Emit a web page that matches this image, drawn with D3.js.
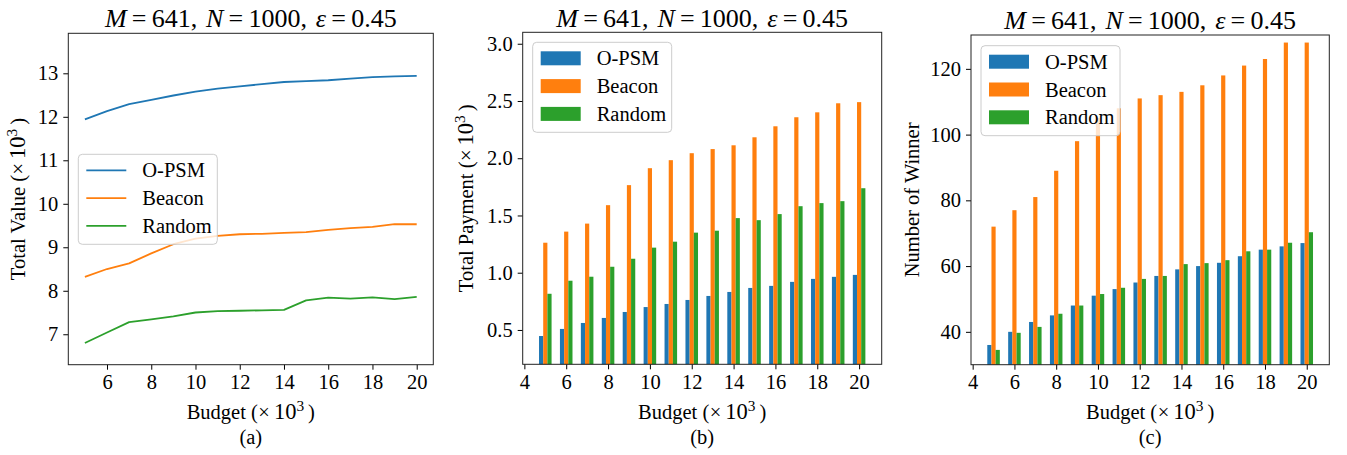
<!DOCTYPE html>
<html>
<head>
<meta charset="utf-8">
<script src="https://cdn.jsdelivr.net/npm/d3@7"></script>
<style>
  body { margin: 0; background: #fff; }
  svg text { font-family: "Liberation Serif", "Times New Roman", serif; fill: #000; }
</style>
</head>
<body>
<div id="wrapper"></div>
<script>
// data
const budget = [5, 6, 7, 8, 9, 10, 11, 12, 13, 14, 15, 16, 17, 18, 19, 20];
const series = ["O-PSM", "Beacon", "Random"];

// (a) total value (x10^3)
const valueOPSM   = [11.94, 12.13, 12.29, 12.39, 12.49, 12.58, 12.65, 12.70, 12.75, 12.80, 12.82, 12.84, 12.88, 12.91, 12.93, 12.94];
const valueBeacon = [8.32, 8.50, 8.63, 8.86, 9.07, 9.20, 9.26, 9.30, 9.31, 9.33, 9.35, 9.40, 9.44, 9.47, 9.53, 9.53];
const valueRandom = [6.80, 7.04, 7.28, 7.34, 7.41, 7.50, 7.53, 7.54, 7.55, 7.56, 7.78, 7.84, 7.82, 7.85, 7.81, 7.86];

// (b) total payment (x10^3)
const payOPSM   = [0.447, 0.509, 0.561, 0.605, 0.657, 0.700, 0.727, 0.762, 0.797, 0.832, 0.867, 0.885, 0.920, 0.946, 0.964, 0.981];
const payBeacon = [1.262, 1.359, 1.429, 1.590, 1.765, 1.913, 1.983, 2.044, 2.080, 2.113, 2.183, 2.279, 2.358, 2.401, 2.480, 2.490];
const payRandom = [0.816, 0.930, 0.965, 1.052, 1.122, 1.219, 1.271, 1.350, 1.367, 1.477, 1.459, 1.512, 1.581, 1.608, 1.625, 1.738];

// (c) number of winners
const winOPSM   = [36, 40, 43, 45, 48, 51, 53, 55, 57, 59, 60, 61, 63, 65, 66, 67];
const winBeacon = [72, 77, 81, 89, 98, 105, 108, 111, 112, 113, 115, 118, 121, 123, 128, 128];
const winRandom = [34.5, 39.7, 41.5, 45.5, 48, 51.5, 53.4, 56.1, 57, 60.6, 60.9, 61.8, 64.5, 65, 67.1, 70.3];

const xTicksA = [6, 8, 10, 12, 14, 16, 18, 20];
const xTicksBC = [4, 6, 8, 10, 12, 14, 16, 18, 20];
const yTicksA = [7, 8, 9, 10, 11, 12, 13];
const yTicksB = [0.5, 1.0, 1.5, 2.0, 2.5, 3.0];
const yTicksC = [40, 60, 80, 100, 120];

const colors = ["#1f77b4", "#ff7f0e", "#2ca02c"];
const fontSize = 20.5;
const titleSize = 26;

const width = 1347, height = 455;
const svg = d3.select("#wrapper").append("svg")
  .attr("width", width).attr("height", height);

const panels = [
  { kind: "line", left: 68.3, top: 33.3, right: 433.3, bottom: 364.7,
    xDomain: [4.25, 20.75], yDomain: [6.30, 13.92], xTicks: xTicksA, yTicks: yTicksA, yFmt: d3.format("d"),
    data: [valueOPSM, valueBeacon, valueRandom], ylabel: "Total Value", sup: true, ylabelX: 17.5,
    titleY: 27, legendY: 154.3, caption: "(a)" },
  { kind: "bar", left: 522.7, top: 32.3, right: 881.7, bottom: 364.3,
    xDomain: [3.92, 21.08], yDomain: [0.20, 3.10], xTicks: xTicksBC, yTicks: yTicksB, yFmt: d3.format(".1f"),
    data: [payOPSM, payBeacon, payRandom], ylabel: "Total Payment", sup: true, ylabelX: 466,
    titleY: 27, legendY: 42.3, caption: "(b)" },
  { kind: "bar", left: 971, top: 35, right: 1329.3, bottom: 364.7,
    xDomain: [3.92, 21.08], yDomain: [30, 130.3], xTicks: xTicksBC, yTicks: yTicksC, yFmt: d3.format("d"),
    data: [winOPSM, winBeacon, winRandom], ylabel: "Number of Winner", sup: false, ylabelX: 912,
    titleY: 28.5, legendY: 45.7, caption: "(c)" }
];

// "Label (×10³)" written like matplotlib mathtext
function scaleLabel(sel, label) {
  sel.append("tspan").text(label + " (");
  sel.append("tspan").text("\u00d7").attr("dx", 0.5);
  sel.append("tspan").text("10").attr("dx", 4).attr("font-size", fontSize + 2);
  sel.append("tspan").text("3").attr("font-size", fontSize * 0.75).attr("dy", -8);
  sel.append("tspan").text(")").attr("dy", 8).attr("dx", 4);
}

panels.forEach(function(p) {
  const x = d3.scaleLinear().domain(p.xDomain).range([p.left, p.right]);
  const y = d3.scaleLinear().domain(p.yDomain).range([p.bottom, p.top]);
  const g = svg.append("g");

  const clipId = "clip" + p.caption.replace(/\W/g, "");
  svg.append("clipPath").attr("id", clipId).append("rect")
    .attr("x", p.left).attr("y", p.top)
    .attr("width", p.right - p.left).attr("height", p.bottom - p.top);

  const plot = g.append("g").attr("clip-path", "url(#" + clipId + ")");

  if (p.kind === "line") {
    const line = d3.line().x((d, i) => x(budget[i])).y(d => y(d));
    p.data.forEach(function(vals, s) {
      plot.append("path").datum(vals)
        .attr("d", line)
        .attr("fill", "none")
        .attr("stroke", colors[s])
        .attr("stroke-width", 1.8)
        .attr("stroke-linejoin", "round");
    });
  } else {
    const bw = 0.2;
    p.data.forEach(function(vals, s) {
      plot.selectAll(null).data(vals).enter().append("rect")
        .attr("x", (d, i) => x(budget[i] + (s - 1) * bw - bw / 2))
        .attr("width", (d, i) => x(budget[i] + bw) - x(budget[i]))
        .attr("y", d => y(d))
        .attr("height", d => y(p.yDomain[0]) - y(d) + 2)
        .attr("fill", colors[s]);
    });
  }

  // axes
  const xAxis = g.append("g").attr("transform", "translate(0," + p.bottom + ")")
    .call(d3.axisBottom(x).tickValues(p.xTicks).tickSize(5).tickPadding(5).tickFormat(d3.format("d")));
  const yAxis = g.append("g").attr("transform", "translate(" + p.left + ",0)")
    .call(d3.axisLeft(y).tickValues(p.yTicks).tickSize(5).tickPadding(5).tickFormat(p.yFmt));
  [xAxis, yAxis].forEach(function(a) {
    a.select(".domain").remove();
    a.selectAll("line").attr("stroke", "#000").attr("stroke-width", 1);
    a.selectAll("text").attr("font-size", fontSize).attr("font-family", null).attr("fill", "#000");
  });

  // frame
  g.append("rect")
    .attr("x", p.left).attr("y", p.top)
    .attr("width", p.right - p.left).attr("height", p.bottom - p.top)
    .attr("fill", "none").attr("stroke", "#222").attr("stroke-width", 1);

  const cx = (p.left + p.right) / 2;
  const cy = (p.top + p.bottom) / 2;

  // title
  const t = g.append("text").attr("x", cx).attr("y", p.titleY)
    .attr("text-anchor", "middle").attr("font-size", titleSize);
  const gap = titleSize * 0.2;
  [["M", true, 0], ["=", false, gap], ["641,", false, gap], ["N", true, gap * 1.7], ["=", false, gap],
   ["1000,", false, gap], ["\u03b5", true, gap * 1.7], ["=", false, gap], ["0.45", false, gap]].forEach(function(part) {
    t.append("tspan").text(part[0]).attr("dx", part[2]).attr("font-style", part[1] ? "italic" : "normal");
  });

  // x label
  const xl = g.append("text").attr("x", cx).attr("y", 419)
    .attr("text-anchor", "middle").attr("font-size", fontSize);
  scaleLabel(xl, "Budget");

  g.append("text").attr("x", cx).attr("y", 444)
    .attr("text-anchor", "middle").attr("font-size", fontSize).text(p.caption);

  // y label
  const yl = g.append("text")
    .attr("transform", "translate(" + (p.ylabelX + 7) + "," + cy + ") rotate(-90)")
    .attr("text-anchor", "middle").attr("font-size", fontSize);
  if (p.sup) scaleLabel(yl, p.ylabel);
  else yl.text(p.ylabel);

  // legend
  const lx = p.left + 10, ly = p.legendY;
  const leg = g.append("g");
  leg.append("rect").attr("x", lx).attr("y", ly).attr("width", 139).attr("height", 90)
    .attr("rx", 4).attr("fill", "#fff").attr("fill-opacity", 0.8)
    .attr("stroke", "#ccc").attr("stroke-width", 1);
  series.forEach(function(name, s) {
    const ry = ly + 16 + s * 27.8;
    if (p.kind === "line") {
      leg.append("line").attr("x1", lx + 8).attr("x2", lx + 48).attr("y1", ry).attr("y2", ry)
        .attr("stroke", colors[s]).attr("stroke-width", 1.8);
    } else {
      leg.append("rect").attr("x", lx + 8).attr("y", ry - 7).attr("width", 40).attr("height", 14)
        .attr("fill", colors[s]);
    }
    leg.append("text").attr("x", lx + 64).attr("y", ry).attr("dy", "0.35em")
      .attr("font-size", fontSize).text(name);
  });
});
</script>
</body>
</html>
